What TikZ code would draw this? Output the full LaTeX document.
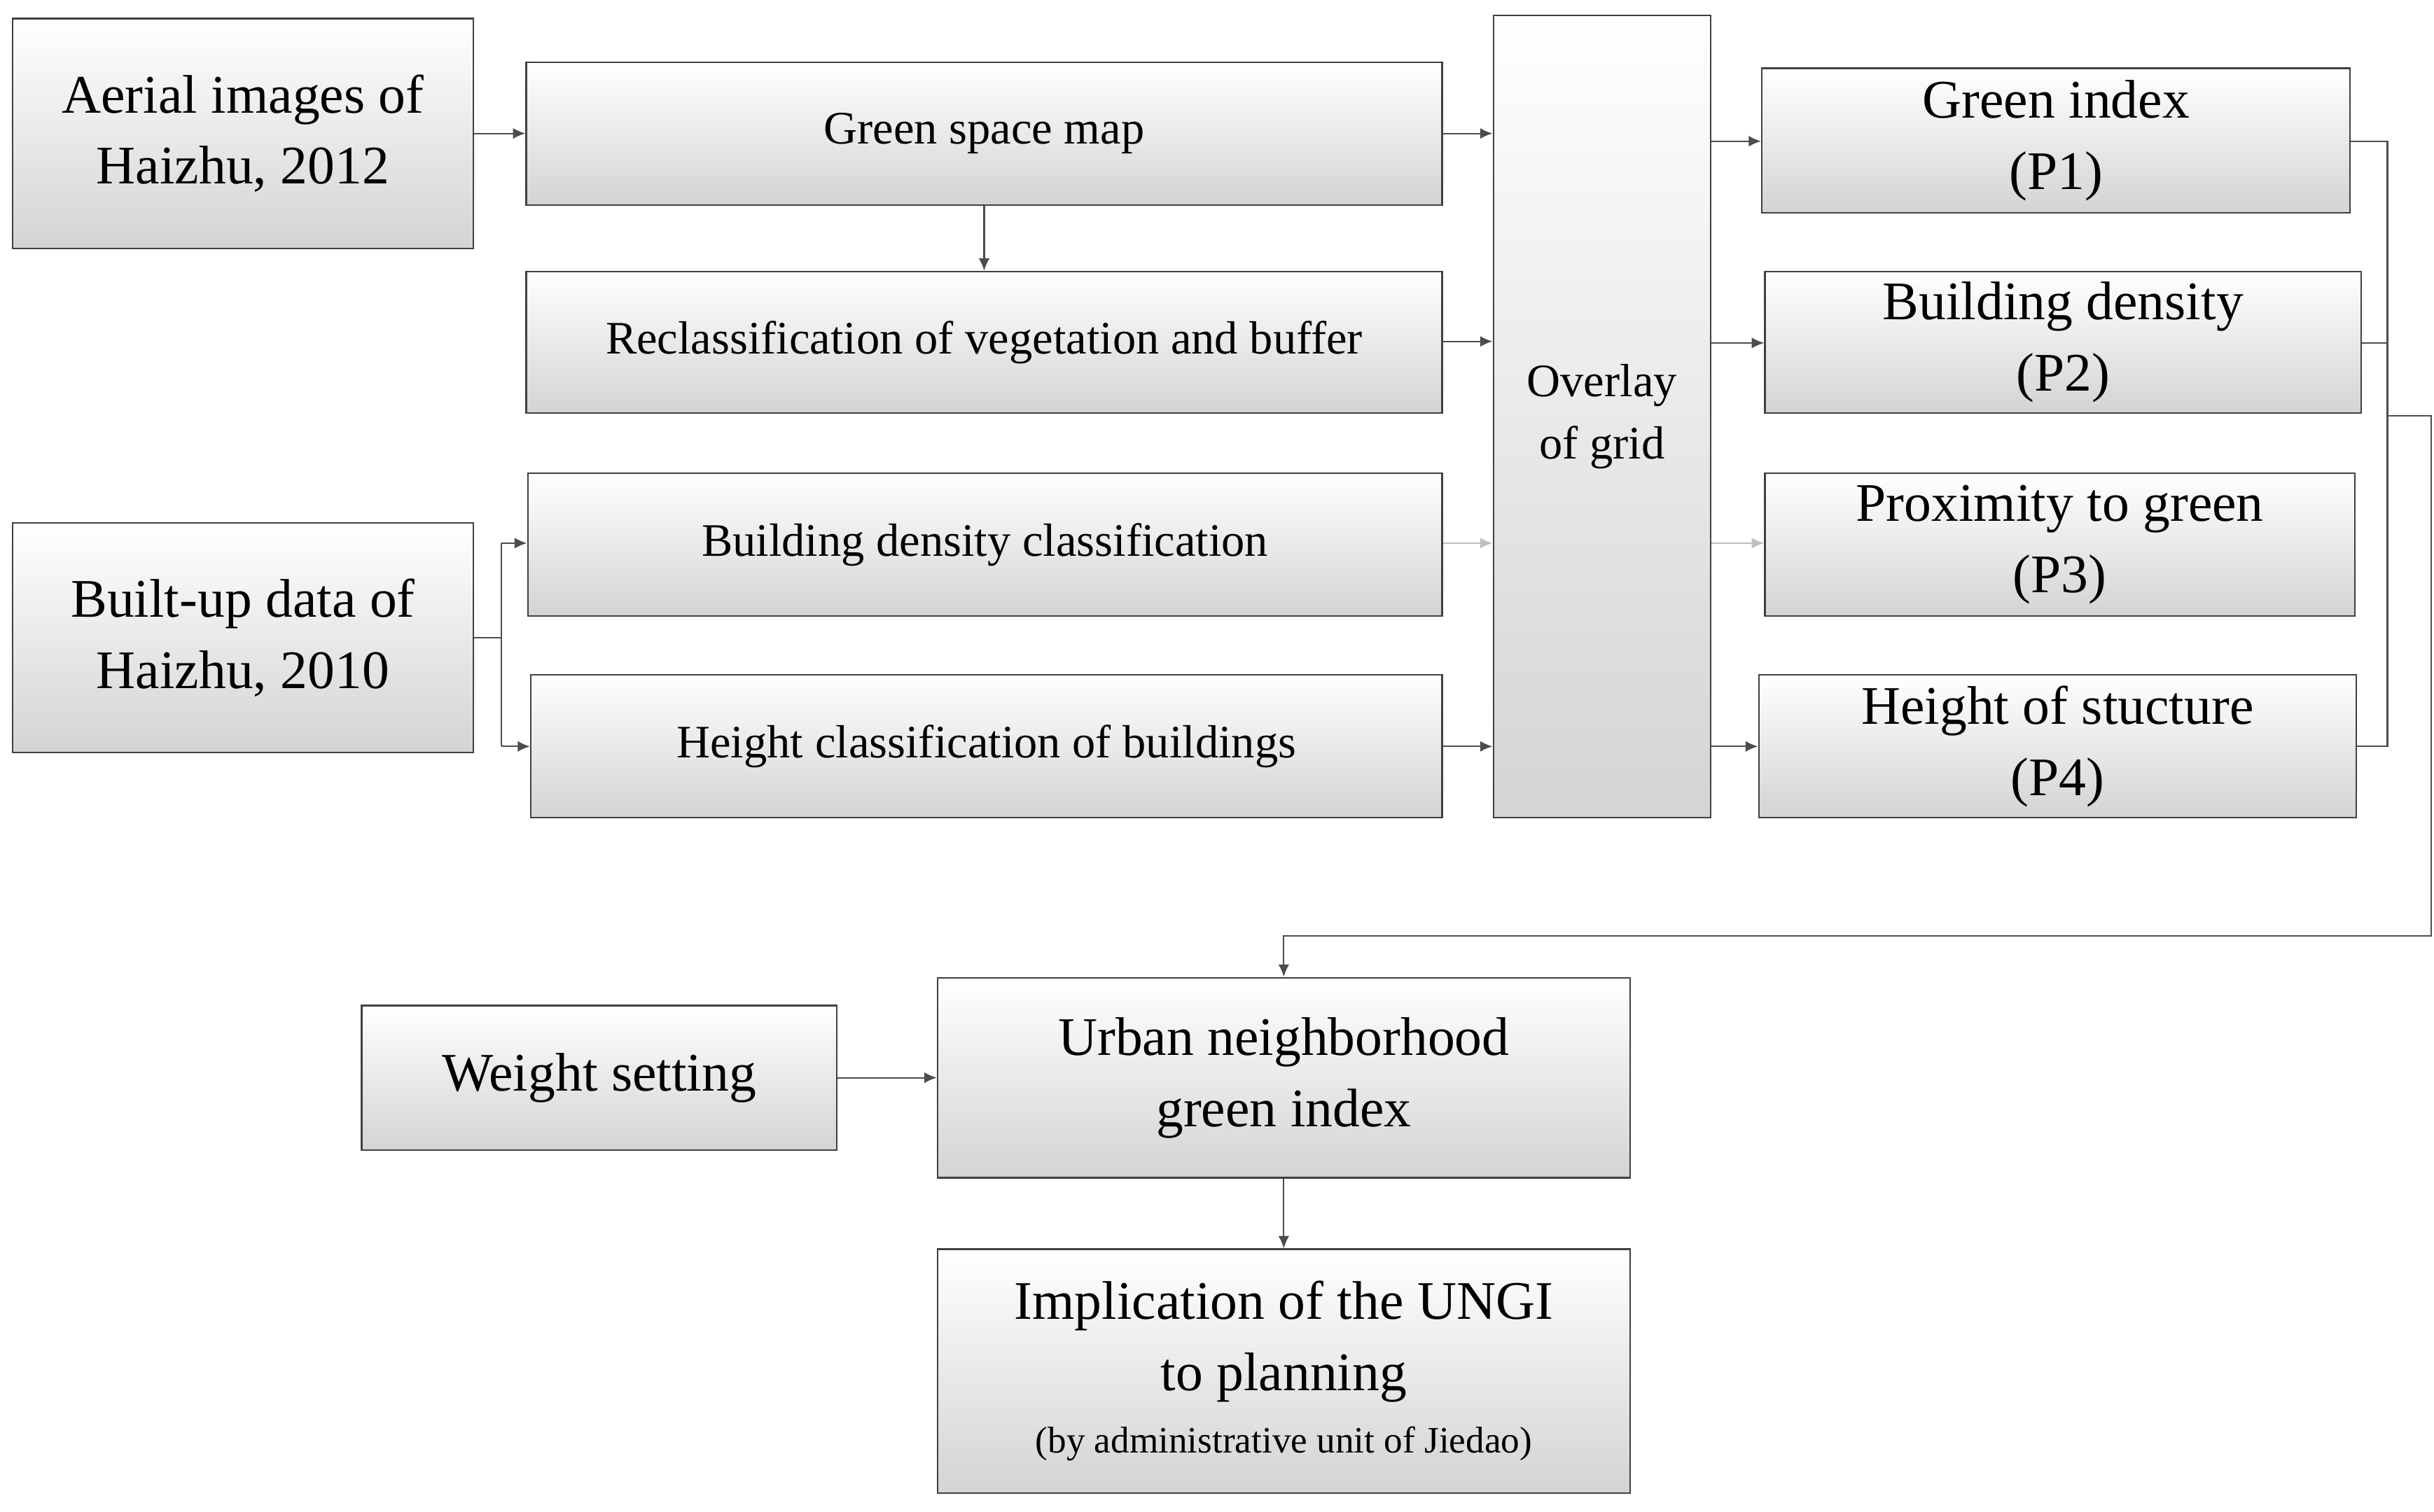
\documentclass[tikz,border=0pt]{standalone}
\usepackage{fontspec}
\setmainfont{Liberation Serif}
\usetikzlibrary{arrows.meta}
\tikzset{
 box/.style={draw=black!75, line width=1pt, top color=white, bottom color=black!17, align=center, inner sep=0pt, text=black},
 big/.style={box, font=\fontsize{35}{46}\selectfont},
 med/.style={box, font=\fontsize{30}{40}\selectfont},
 ln/.style={draw=black!70, line width=1pt},
 arr/.style={ln, -{Latex[length=8pt,width=7pt]}},
}
\newcommand{\bx}[7]{\node[#1, minimum width=#5-#3, minimum height=#6-#4] (#2) at ({(#3+#5)/2},{(#4+#6)/2}) {#7};}
\begin{document}
\begin{tikzpicture}[x=1pt,y=-1pt]
\useasboundingbox[fill=white] (0,0) rectangle (1568,974);
\bx{big}{aer}{8}{12}{305}{160}{Aerial images of\\Haizhu, 2012}
\bx{med}{gsm}{339}{40}{929}{132}{Green space map}
\bx{med}{rec}{339}{175}{929}{266}{Reclassification of vegetation and buffer}
\bx{big}{bui}{8}{337}{305}{485}{Built-up data of\\Haizhu, 2010}
\bx{med}{bdc}{340}{305}{929}{397}{Building density classification}
\bx{med}{hcb}{342}{435}{929}{527}{Height classification of buildings}
\bx{med}{ovl}{962}{10}{1102}{527}{Overlay\\of grid}
\bx{big}{p1}{1135}{44}{1514}{137}{Green index\\(P1)}
\bx{big}{p2}{1137}{175}{1521}{266}{Building density\\(P2)}
\bx{big}{p3}{1137}{305}{1517}{397}{Proximity to green\\(P3)}
\bx{big}{p4}{1133}{435}{1518}{527}{Height of stucture\\(P4)}
\bx{big}{wgt}{233}{648}{539}{741}{Weight setting}
\bx{big}{ung}{604}{630}{1050}{759}{Urban neighborhood\\green index}
\bx{big}{imp}{604}{805}{1050}{962}{Implication of the UNGI\\to planning\\[-6pt]{\fontsize{24}{30}\selectfont (by administrative unit of Jiedao)}}
% connectors
\draw[arr] (aer.east |- 0,86) -- (gsm.west |- 0,86);
\draw[arr] (gsm.south) -- (rec.north);
\coordinate (bj) at (323,411);
\draw[ln] (bui.east |- bj) -- (bj);
\draw[ln] (323,350) -- (323,481);
\draw[arr] (323,350) -- (bdc.west |- 0,350);
\draw[arr] (323,481) -- (hcb.west |- 0,481);
\draw[arr] (gsm.east |- 0,86) -- (ovl.west |- 0,86);
\draw[arr] (rec.east |- 0,220) -- (ovl.west |- 0,220);
\draw[arr, draw=black!25] (bdc.east |- 0,350) -- (ovl.west |- 0,350);
\draw[arr] (hcb.east |- 0,481) -- (ovl.west |- 0,481);
\draw[arr] (ovl.east |- 0,91) -- (p1.west |- 0,91);
\draw[arr] (ovl.east |- 0,221) -- (p2.west |- 0,221);
\draw[arr, draw=black!25] (ovl.east |- 0,350) -- (p3.west |- 0,350);
\draw[arr] (ovl.east |- 0,481) -- (p4.west |- 0,481);
\draw[ln] (p1.east |- 0,91) -- (1538,91) -- (1538,481) -- (p4.east |- 0,481);
\draw[ln] (p2.east |- 0,221) -- (1538,221);
\draw[arr] (1538,268) -- (1566,268) -- (1566,603) -- (827,603) -- (ung.north);
\draw[arr] (wgt.east) -- (ung.west |- wgt.east);
\draw[arr] (ung.south) -- (imp.north);
\end{tikzpicture}
\end{document}
